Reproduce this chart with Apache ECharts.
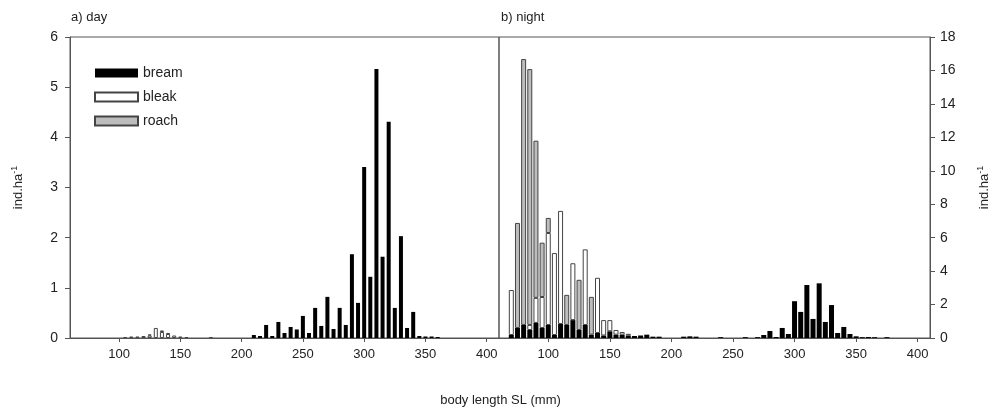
<!DOCTYPE html>
<html><head><meta charset="utf-8">
<script src="https://cdn.jsdelivr.net/npm/echarts@6/dist/echarts.min.js"></script>
<style>html,body{margin:0;padding:0;background:#fff}#c{width:1001px;height:412px}</style>
</head><body><div id="c"></div>
<script>
// axis categories: 5-mm length classes from 60 to 410 mm
const axisBins = [60,65,70,75,80,85,90,95,100,105,110,115,120,125,130,135,140,145,150,155,160,165,170,175,180,185,190,195,200,205,210,215,220,225,230,235,240,245,250,255,260,265,270,275,280,285,290,295,300,305,310,315,320,325,330,335,340,345,350,355,360,365,370,375,380,385,390,395,400,405,410];
const xTickLabels = [100,150,200,250,300,350,400];
const seriesNames = ['bream','bleak','roach'];

// a) day
const dayBins = [100,105,110,115,120,125,130,135,140,145,150,155,160,165,170,175,180,185,190,195,200,205,210,215,220,225,230,235,240,245,250,255,260,265,270,275,280,285,290,295,300,305,310,315,320,325,330,335,340,345,350,355,360];
const dayBream = [0,0,0,0,0,0,0,0,0,0,0,0,0,0,0,0,0,0,0,0,0,0,
  0.06,0.04,0.26,0.04,0.32,0.1,0.22,0.17,0.44,0.1,0.6,0.24,0.82,0.18,0.6,0.26,1.67,0.7,3.41,1.22,5.36,1.62,4.31,0.6,2.03,0.2,0.52,0.04,0.03,0.03,0.02];
const dayBleak = [0,0.02,0.03,0.03,0.04,0.05,0.2,0.12,0.08,0.05,0.03,0.02,0,0,0,0.02,
  0,0,0,0,0,0,0,0,0,0,0,0,0,0,0,0,0,0,0,0,0,0,0,0,0,0,0,0,0,0,0,0,0,0,0,0,0];
const dayRoach = [0,0,0,0,0,0.02,0,0.03,0.02,
  0,0,0,0,0,0,0,0,0,0,0,0,0,0,0,0,0,0,0,0,0,0,0,0,0,0,0,0,0,0,0,0,0,0,0,0,0,0,0,0,0,0,0,0];

// b) night
const nightBins = [70,75,80,85,90,95,100,105,110,115,120,125,130,135,140,145,150,155,160,165,170,175,180,185,190,195,200,205,210,215,220,225,230,235,240,245,250,255,260,265,270,275,280,285,290,295,300,305,310,315,320,325,330,335,340,345,350,355,360,365,370,375];
const nightBream = [0.18,0.6,0.78,0.48,0.9,0.6,0.78,0.18,0.84,0.78,1.07,0.48,0.78,0.2,0.3,0.15,0.4,0.2,0.2,0.15,0.12,0.15,0.2,0.08,0.08,0,0,0,0.08,0.1,0.08,0,0,0,0.05,0,0,0,0.05,0,0.05,0.18,0.42,0.06,0.6,0.24,2.2,1.56,3.17,1.14,3.27,0.96,1.97,0.3,0.66,0.24,0.1,0.05,0.06,0.05,0,0.05];
const nightBleak = [2.69,0,0,0.3,1.5,1.85,5.5,4.9,6.76,0,3.4,0,4.52,0,3.3,0.92,0.67,0.28,0.16,0.1,
  0,0,0,0,0,0,0,0,0,0,0,0,0,0,0,0,0,0,0,0,0,0,0,0,0,0,0,0,0,0,0,0,0,0,0,0,0,0,0,0,0,0];
const nightRoach = [0,6.28,15.9,15.3,9.4,3.25,0.9,0,0,1.8,0,3.0,0,2.26,
  0,0,0,0,0,0,0,0,0,0,0,0,0,0,0,0,0,0,0,0,0,0,0,0,0,0,0,0,0,0,0,0,0,0,0,0,0,0,0,0,0,0,0,0,0,0,0,0];

const FONT = '"Liberation Sans", Arial, sans-serif';
const TXT = '#222';
const LINE = '#555';

// align a series to the axis categories ('-' = empty class)
function aligned(bins, vals){
  return axisBins.map(c => { const i = bins.indexOf(c); return (i >= 0 && vals[i] > 0) ? vals[i] : '-'; });
}

const styles = {
  bream: {color:'#000000', borderWidth:0},
  bleak: {color:'#ffffff', borderColor:'#444', borderWidth:1},
  roach: {color:'#bdbdbd', borderColor:'#444', borderWidth:1}
};

function mkSeries(name, bins, vals, idx, bw){
  return {
    name, type:'bar', xAxisIndex:idx, yAxisIndex:idx, stack:'s'+idx,
    barWidth:bw, data:aligned(bins, vals), itemStyle:styles[name],
    animation:false, emphasis:{disabled:true}
  };
}

const showTick = (i, v) => xTickLabels.indexOf(+v) >= 0;

function xAxis(idx){
  return {
    type:'category', gridIndex:idx, data:axisBins.map(String), boundaryGap:false,
    axisLine:{show:true, onZero:false, lineStyle:{color:LINE, width:1}},
    axisTick:{show:true, length:4, lineStyle:{color:LINE}, interval:showTick},
    axisLabel:{fontSize:13, color:TXT, fontFamily:FONT, margin:10, interval:showTick, hideOverlap:false},
    splitLine:{show:false}
  };
}
const nameRich = {
  a:{fontSize:13, color:TXT, fontFamily:FONT, lineHeight:16},
  b:{fontSize:9, color:TXT, fontFamily:FONT, verticalAlign:'top', lineHeight:16}
};

const option = {
  backgroundColor:'#fff',
  animation:false,
  title:[
    {text:'a) day', left:66, top:6, textStyle:{fontSize:13, fontWeight:'normal', color:TXT, fontFamily:FONT}},
    {text:'b) night', left:496, top:6, textStyle:{fontSize:13, fontWeight:'normal', color:TXT, fontFamily:FONT}},
    {text:'body length SL (mm)', left:'center', top:389, textStyle:{fontSize:13, fontWeight:'normal', color:TXT, fontFamily:FONT}}
  ],
  legend:{
    data:seriesNames, orient:'vertical', left:89, top:60,
    icon:'rect', itemWidth:43, itemHeight:9, itemGap:8,
    textStyle:{fontSize:14, color:TXT, fontFamily:FONT, lineHeight:16},
    selectedMode:false
  },
  grid:[
    {left:70, top:37, width:429, height:301, show:true, borderColor:LINE, borderWidth:1, containLabel:false},
    {left:499, top:37, width:431, height:301, show:true, borderColor:LINE, borderWidth:1, containLabel:false}
  ],
  xAxis:[xAxis(0), xAxis(1)],
  yAxis:[
    {type:'value', gridIndex:0, min:0, max:6, interval:1,
     axisLine:{show:true, lineStyle:{color:LINE}},
     axisTick:{show:true, length:5, lineStyle:{color:LINE}},
     axisLabel:{fontSize:14, color:TXT, fontFamily:FONT, margin:12},
     splitLine:{show:false},
     name:'{a|ind.ha}{b|-1}', nameLocation:'middle', nameRotate:90, nameGap:44,
     nameTextStyle:{rich:nameRich}},
    {type:'value', gridIndex:1, position:'right', min:0, max:18, interval:2,
     axisLine:{show:true, lineStyle:{color:LINE}},
     axisTick:{show:true, length:5, lineStyle:{color:LINE}},
     axisLabel:{fontSize:14, color:TXT, fontFamily:FONT, margin:10},
     splitLine:{show:false},
     name:'{a|ind.ha}{b|-1}', nameLocation:'middle', nameRotate:90, nameGap:46,
     nameTextStyle:{rich:nameRich}}
  ],
  series:[
    mkSeries('bream', dayBins, dayBream, 0, 4),
    mkSeries('bleak', dayBins, dayBleak, 0, 4),
    mkSeries('roach', dayBins, dayRoach, 0, 4),
    mkSeries('bream', nightBins, nightBream, 1, 5),
    mkSeries('bleak', nightBins, nightBleak, 1, 5),
    mkSeries('roach', nightBins, nightRoach, 1, 5)
  ]
};
const chart = echarts.init(document.getElementById('c'), null, {renderer:'canvas'});
chart.setOption(option);
</script>
</body></html>
